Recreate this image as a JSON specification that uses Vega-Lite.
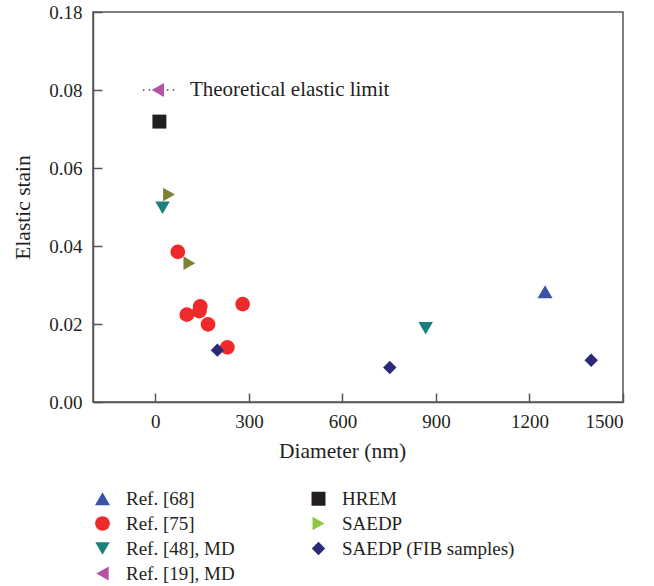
{
  "$schema": "https://vega.github.io/schema/vega-lite/v6.json",
  "width": 530,
  "height": 390,
  "autosize": {"type": "none"},
  "padding": {"left": 93, "top": 12, "right": 31, "bottom": 184},
  "background": "white",
  "config": {
    "view": {"stroke": "#555555", "strokeWidth": 1.5},
    "font": "Liberation Serif",
    "axis": {
      "grid": false,
      "domainColor": "#555555",
      "domainWidth": 1.5,
      "tickColor": "#555555",
      "tickWidth": 1.5,
      "labelFont": "Liberation Serif",
      "labelFontSize": 19,
      "labelColor": "#231f20",
      "titleFont": "Liberation Serif",
      "titleFontSize": 21.5,
      "titleFontWeight": "normal",
      "titleColor": "#231f20"
    }
  },
  "datasets": {
    "pts": [
      {"d": 1250, "e": 0.0283, "g": "Ref. [68]"},
      {"d": 72, "e": 0.0385, "g": "Ref. [75]"},
      {"d": 101, "e": 0.0224, "g": "Ref. [75]"},
      {"d": 144, "e": 0.0245, "g": "Ref. [75]"},
      {"d": 141, "e": 0.0233, "g": "Ref. [75]"},
      {"d": 169, "e": 0.0199, "g": "Ref. [75]"},
      {"d": 280, "e": 0.0251, "g": "Ref. [75]"},
      {"d": 231, "e": 0.014, "g": "Ref. [75]"},
      {"d": 23, "e": 0.0498, "g": "Ref. [48], MD"},
      {"d": 867, "e": 0.0189, "g": "Ref. [48], MD"},
      {"d": 8, "e": 0.08, "g": "Ref. [19], MD"},
      {"d": 13, "e": 0.0719, "g": "HREM"},
      {"d": 44, "e": 0.0532, "g": "SAEDP"},
      {"d": 109, "e": 0.0356, "g": "SAEDP"},
      {"d": 199, "e": 0.0133, "g": "SAEDP (FIB samples)"},
      {"d": 752, "e": 0.00885, "g": "SAEDP (FIB samples)"},
      {"d": 1398, "e": 0.0107, "g": "SAEDP (FIB samples)"}
    ],
    "limit": [{"x1": -40, "x2": 70, "e": 0.08, "label": "Theoretical elastic limit", "tx": 111}]
  },
  "layer": [
    {
      "data": {"name": "limit"},
      "mark": {"type": "rule", "strokeDash": [1.5, 4.5], "color": "#444444", "strokeWidth": 1.3},
      "encoding": {
        "x": {"field": "x1", "type": "quantitative", "scale": {"domain": [-200, 1500]}},
        "x2": {"field": "x2"},
        "y": {"field": "e", "type": "quantitative", "scale": {"domain": [0, 0.1]}}
      }
    },
    {
      "data": {"name": "pts"},
      "mark": {"type": "point", "filled": true, "opacity": 1},
      "encoding": {
        "x": {
          "field": "d", "type": "quantitative",
          "scale": {"domain": [-200, 1500], "nice": false, "zero": false},
          "axis": {"values": [0, 300, 600, 900, 1200, 1500], "format": "d", "tickSize": -9, "labelPadding": 19, "title": "Diameter (nm)", "titleX": 249, "titlePadding": 9}
        },
        "y": {
          "field": "e", "type": "quantitative",
          "scale": {"domain": [0, 0.1], "nice": false},
          "axis": {"values": [0, 0.02, 0.04, 0.06, 0.08, 0.1], "tickSize": -9, "labelPadding": 20, "labelExpr": "datum.value >= 0.099 ? '0.18' : format(datum.value, '.2f')", "title": "Elastic stain", "titlePadding": 14}
        },
        "size": {
          "field": "g", "type": "nominal",
          "scale": {
            "domain": ["Ref. [68]", "Ref. [75]", "Ref. [48], MD", "Ref. [19], MD", "HREM", "SAEDP", "SAEDP (FIB samples)"],
            "range": [225, 180, 225, 225, 150, 225, 175]
          },
          "legend": null
        },
        "color": {
          "condition": {"test": "datum.g === 'SAEDP'", "value": "#7f7f35"},
          "field": "g", "type": "nominal",
          "scale": {
            "domain": ["Ref. [68]", "Ref. [75]", "Ref. [48], MD", "Ref. [19], MD", "HREM", "SAEDP", "SAEDP (FIB samples)"],
            "range": ["#3a53a4", "#ee2a2a", "#1b807b", "#b652a3", "#231f20", "#8dc63f", "#2b2a78"]
          },
          "legend": {
            "title": null,
            "orient": "none",
            "legendX": 0,
            "legendY": 477,
            "columns": 2,
            "columnPadding": 74,
            "rowPadding": 5,
            "labelFont": "Liberation Serif",
            "labelFontSize": 19,
            "labelColor": "#231f20",
            "labelLimit": 400,
            "labelOffset": 14,
            "symbolSize": 210,
            "symbolStrokeWidth": 0,
            "symbolOpacity": 1
          }
        },
        "shape": {
          "field": "g", "type": "nominal",
          "scale": {
            "domain": ["Ref. [68]", "Ref. [75]", "Ref. [48], MD", "Ref. [19], MD", "HREM", "SAEDP", "SAEDP (FIB samples)"],
            "range": ["triangle-up", "circle", "triangle-down", "triangle-left", "square", "triangle-right", "diamond"]
          }
        }
      }
    },
    {
      "data": {"name": "limit"},
      "mark": {"type": "text", "align": "left", "baseline": "middle", "font": "Liberation Serif", "fontSize": 21, "color": "#231f20"},
      "encoding": {
        "x": {"field": "tx", "type": "quantitative"},
        "y": {"field": "e", "type": "quantitative"},
        "text": {"field": "label"}
      }
    }
  ]
}
